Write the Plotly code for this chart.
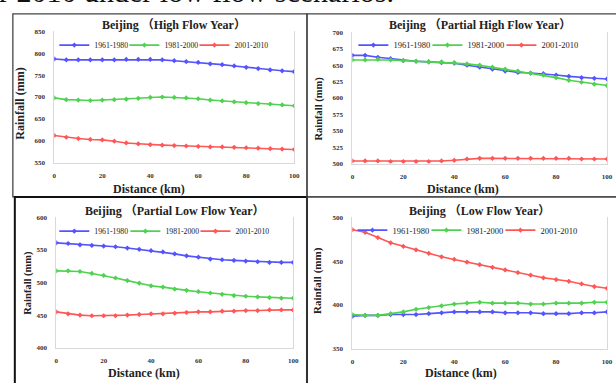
import plotly.graph_objects as go

W, H = 616, 383
distance = [0, 5, 10, 15, 20, 25, 30, 35, 40, 45, 50, 55, 60, 65, 70, 75, 80, 85, 90, 95, 100]
series_names = ["1961-1980", "1981-2000", "2001-2010"]
colors = ["#5454ff", "#4fd24f", "#ff5656"]

titles = ["Beijing （High Flow Year）", "Beijing （Partial High Flow Year）",
          "Beijing （Partial Low Flow Year）", "Beijing （Low Flow Year）"]

high_1961 = [787, 785, 785, 785, 785, 785, 786, 786, 786, 785, 783, 781, 779, 776, 774, 771, 768, 765, 762, 760, 758]
high_1981 = [698, 694, 693, 692, 693, 694, 695, 697, 699, 700, 699, 698, 696, 693, 691, 689, 687, 685, 684, 682, 680]
high_2001 = [612, 608, 605, 603, 602, 599, 595, 593, 591, 590, 589, 588, 587, 586, 586, 585, 584, 583, 582, 581, 580]

phigh_1961 = [665, 665, 662, 660, 657, 656, 655, 654, 653, 650, 647, 644, 641, 639, 638, 637, 635, 633, 631, 630, 629]
phigh_1981 = [658, 658, 659, 658, 657, 656, 655, 655, 654, 652, 650, 647, 644, 641, 638, 635, 631, 627, 624, 621, 619]
phigh_2001 = [504, 504, 504, 503, 503, 503, 503, 504, 505, 507, 508, 508, 508, 508, 508, 508, 508, 508, 507, 507, 507]

plow_1961 = [561, 560, 558, 557, 556, 555, 553, 551, 549, 547, 544, 541, 539, 536, 535, 534, 533, 532, 531, 531, 531]
plow_1981 = [518, 518, 517, 514, 511, 507, 503, 499, 495, 493, 490, 488, 486, 484, 482, 480, 479, 478, 477, 476, 476]
plow_2001 = [455, 452, 450, 449, 449, 449, 450, 451, 452, 452, 453, 454, 455, 455, 456, 456, 457, 457, 458, 458, 458]

low_1961 = [387, 388, 388, 389, 389, 389, 390, 391, 392, 392, 392, 392, 391, 391, 391, 390, 390, 390, 391, 391, 392]
low_1981 = [389, 388, 388, 390, 392, 395, 397, 399, 401, 402, 403, 402, 402, 402, 401, 401, 402, 402, 402, 403, 403]
low_2001 = [486, 483, 477, 471, 467, 463, 459, 455, 452, 449, 446, 443, 440, 437, 434, 431, 429, 427, 424, 421, 419]

panels_data = [
    [high_1961, high_1981, high_2001],
    [phigh_1961, phigh_1981, phigh_2001],
    [plow_1961, plow_1981, plow_2001],
    [low_1961, low_1981, low_2001],
]
y_ranges = [(550, 850, 50), (500, 700, 25), (400, 600, 50), (350, 500, 50)]
x_ticks = [0, 20, 40, 60, 80, 100]

# plot-area pixel boxes (left, right, top, bottom)
boxes = [(53, 296, 28, 162), (355, 613, 29, 163), (55, 295, 218, 351), (355, 613, 218, 352)]
# panel borders (left, right, top, bottom)
frames = [(11, 309, 10, 197), (309, 640, 10, 197), (13, 309, 197, 400), (309, 640, 197, 400)]
# legend text starts (px), legend y (px), legend font size
legend_x = [(93, 164, 235), (396, 471, 546), (93, 165, 236), (395, 470, 545)]
legend_y = [42, 42, 232, 231]
legend_fs = [7.8, 8.5, 7.8, 8.5]
# title y, axis-title positions and sizes
title_y = [21, 21, 211, 211]
ytitle = [(18, 102, 12), (321, 107, 10.5), (26, 285, 10.5), (319, 282, 11)]
xtitle = [(149, 189), (467, 189), (144, 377), (465, 377)]

def px(x):
    return x / W

def py(y):
    return 1 - y / H

fig = go.Figure()
layout = dict(width=W, height=H, margin=dict(l=0, r=0, t=0, b=0),
              paper_bgcolor="white", plot_bgcolor="white", showlegend=True)
annotations = []
shapes = []
serif = "Liberation Serif, Times New Roman, Noto Sans CJK SC, serif"

leg_idx = 0
for i in range(4):
    suf = "" if i == 0 else str(i + 1)
    l, r, t, b = boxes[i]
    lo, hi, step = y_ranges[i]
    for j in range(3):
        leg_idx += 1
        legname = "legend" if leg_idx == 1 else "legend" + str(leg_idx)
        fig.add_trace(go.Scatter(
            x=distance, y=panels_data[i][j], name=series_names[j],
            mode="lines+markers",
            line=dict(color=colors[j], width=1.6),
            marker=dict(color=colors[j], size=4, symbol="diamond"),
            xaxis="x" + suf, yaxis="y" + suf, legend=legname,
        ))
        layout[legname] = dict(
            orientation="h", x=px(legend_x[i][j] - 40), y=py(legend_y[i]),
            xanchor="left", yanchor="middle",
            bgcolor="rgba(0,0,0,0)", font=dict(family=serif, size=legend_fs[i], color="#222"),
            itemwidth=30,
        )
    layout["xaxis" + suf] = dict(
        domain=[px(l), px(r)], anchor="y" + suf, range=[0, 100],
        tickvals=x_ticks, showgrid=False, zeroline=False,
        showline=True, linecolor="#d9d9d9", linewidth=1, ticks="",
        ticklabelstandoff=6,
        tickfont=dict(family=serif, size=7, color="#333", weight="bold"),
    )
    layout["yaxis" + suf] = dict(
        domain=[py(b), py(t)], anchor="x" + suf, range=[lo, hi],
        tickvals=list(range(lo, hi + 1, step)), showgrid=False, zeroline=False,
        showline=True, mirror=True, linecolor="#d9d9d9", linewidth=1, ticks="",
        ticklabelstandoff=7,
        tickfont=dict(family=serif, size=7, color="#333", weight="bold"),
    )
    # title
    annotations.append(dict(
        x=px((l + r) / 2), y=py(title_y[i]), xref="paper", yref="paper",
        text="<b>" + titles[i] + "</b>", showarrow=False,
        font=dict(family=serif, size=12, color="#222"), xanchor="center", yanchor="middle"))
    # y axis title
    yx, yy, yfs = ytitle[i]
    annotations.append(dict(
        x=px(yx), y=py(yy), xref="paper", yref="paper",
        text="<b>Rainfall (mm)</b>", showarrow=False, textangle=-90,
        font=dict(family=serif, size=yfs, color="#222"), xanchor="center", yanchor="middle"))
    # x axis title
    xx, xy = xtitle[i]
    annotations.append(dict(
        x=px(xx), y=py(xy), xref="paper", yref="paper",
        text="<b>Distance (km)</b>", showarrow=False,
        font=dict(family=serif, size=12, color="#222"), xanchor="center", yanchor="middle"))
    fl, fr, ft, fb = frames[i]
    shapes.append(dict(type="rect", xref="paper", yref="paper",
                       x0=px(fl), x1=px(fr), y0=py(fb), y1=py(ft),
                       line=dict(color="#444" if i != 2 else "#111", width=1.3 if i != 2 else 2),
                       fillcolor="rgba(0,0,0,0)", layer="above"))

# cut-off caption text at top
annotations.append(dict(
    x=px(-5), y=py(6), xref="paper", yref="paper",
    text="r 2010 under low flow scenarios.", showarrow=False,
    font=dict(family=serif, size=30, color="#111"), xanchor="left", yanchor="bottom"))

layout["annotations"] = annotations
layout["shapes"] = shapes
fig.update_layout(**layout)
fig.write_html("out.html")
